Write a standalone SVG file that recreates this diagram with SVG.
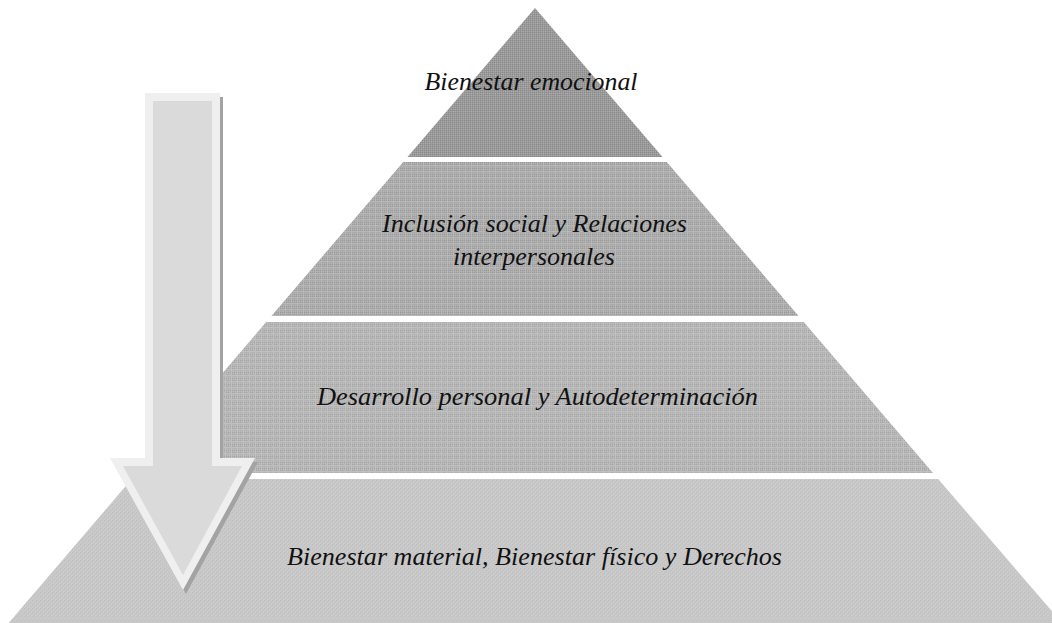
<svg xmlns="http://www.w3.org/2000/svg" width="1052" height="623" viewBox="0 0 1052 623">
  <defs>
    <!-- fine dotted textures for the pyramid levels -->
    <pattern id="tex1" width="6" height="6" patternUnits="userSpaceOnUse">
      <rect width="6" height="6" fill="#9a9a9a"/>
      <rect x="0" y="0" width="1" height="1" fill="#8a8a8a"/>
      <rect x="2" y="0" width="1" height="1" fill="#8a8a8a"/>
      <rect x="4" y="0" width="1" height="1" fill="#8a8a8a"/>
      <rect x="1" y="1" width="1" height="1" fill="#a8a8a8"/>
      <rect x="3" y="1" width="1" height="1" fill="#a8a8a8"/>
      <rect x="5" y="1" width="1" height="1" fill="#a8a8a8"/>
      <rect x="0" y="2" width="1" height="1" fill="#8a8a8a"/>
      <rect x="2" y="2" width="1" height="1" fill="#8a8a8a"/>
      <rect x="4" y="2" width="1" height="1" fill="#8a8a8a"/>
      <rect x="1" y="3" width="1" height="1" fill="#a8a8a8"/>
      <rect x="3" y="3" width="1" height="1" fill="#b0b0b0"/>
      <rect x="5" y="3" width="1" height="1" fill="#a8a8a8"/>
      <rect x="0" y="4" width="1" height="1" fill="#8a8a8a"/>
      <rect x="2" y="4" width="1" height="1" fill="#8a8a8a"/>
      <rect x="4" y="4" width="1" height="1" fill="#8a8a8a"/>
      <rect x="1" y="5" width="1" height="1" fill="#a8a8a8"/>
      <rect x="3" y="5" width="1" height="1" fill="#a8a8a8"/>
      <rect x="5" y="5" width="1" height="1" fill="#a8a8a8"/>
    </pattern>
    <pattern id="tex2" width="6" height="6" patternUnits="userSpaceOnUse">
      <rect width="6" height="6" fill="#a9a9a9"/>
      <rect x="0" y="0" width="1" height="1" fill="#9c9c9c"/>
      <rect x="2" y="0" width="1" height="1" fill="#9c9c9c"/>
      <rect x="4" y="0" width="1" height="1" fill="#9c9c9c"/>
      <rect x="1" y="1" width="1" height="1" fill="#b6b6b6"/>
      <rect x="3" y="1" width="1" height="1" fill="#b6b6b6"/>
      <rect x="5" y="1" width="1" height="1" fill="#b6b6b6"/>
      <rect x="0" y="2" width="1" height="1" fill="#9c9c9c"/>
      <rect x="2" y="2" width="1" height="1" fill="#9c9c9c"/>
      <rect x="4" y="2" width="1" height="1" fill="#9c9c9c"/>
      <rect x="0" y="3" width="6" height="1" fill="#b8b8b8"/>
      <rect x="3" y="0" width="1" height="6" fill="#b8b8b8"/>
      <rect x="1" y="5" width="1" height="1" fill="#b6b6b6"/>
      <rect x="5" y="5" width="1" height="1" fill="#b6b6b6"/>
    </pattern>
    <pattern id="tex3" width="6" height="6" patternUnits="userSpaceOnUse">
      <rect width="6" height="6" fill="#b3b3b3"/>
      <rect x="0" y="0" width="1" height="1" fill="#a6a6a6"/>
      <rect x="2" y="0" width="1" height="1" fill="#a6a6a6"/>
      <rect x="4" y="0" width="1" height="1" fill="#a6a6a6"/>
      <rect x="1" y="1" width="1" height="1" fill="#bfbfbf"/>
      <rect x="5" y="1" width="1" height="1" fill="#bfbfbf"/>
      <rect x="0" y="2" width="1" height="1" fill="#a6a6a6"/>
      <rect x="4" y="2" width="1" height="1" fill="#a6a6a6"/>
      <rect x="0" y="3" width="6" height="1" fill="#c0c0c0"/>
      <rect x="3" y="0" width="1" height="6" fill="#c0c0c0"/>
      <rect x="1" y="5" width="1" height="1" fill="#bfbfbf"/>
      <rect x="5" y="5" width="1" height="1" fill="#bfbfbf"/>
    </pattern>
    <pattern id="tex4" width="4" height="4" patternUnits="userSpaceOnUse">
      <rect width="4" height="4" fill="#c9c9c9"/>
      <rect x="0" y="0" width="2" height="2" fill="#c3c3c3"/>
      <rect x="2" y="2" width="2" height="2" fill="#c3c3c3"/>
      <rect x="1" y="1" width="1" height="1" fill="#cfcfcf"/>
      <rect x="3" y="3" width="1" height="1" fill="#cfcfcf"/>
    </pattern>
  </defs>
  <style>
    .label { font-family: "Liberation Serif", "DejaVu Serif", serif; font-style: italic; font-size: 26px; fill: #111111; text-anchor: middle; }
    .arrow-shadow { fill: #a3a3a3; }
    .arrow-rim { fill: #efefef; }
    .arrow-core { fill: #dadada; }
  </style>

  <rect width="1052" height="623" fill="#ffffff"/>

  <!-- pyramid levels, top to bottom -->
  <g id="level-emocional">
    <polygon points="535,8 662.5,157 407.5,157" fill="url(#tex1)"/>
    <text class="label" x="531" y="90" textLength="213" lengthAdjust="spacingAndGlyphs">Bienestar emocional</text>
  </g>
  <g id="level-inclusion">
    <polygon points="403.2,162 666.8,162 798.6,316 271.4,316" fill="url(#tex2)"/>
    <text class="label" x="534.5" y="232" textLength="305" lengthAdjust="spacingAndGlyphs">Inclusión social y Relaciones</text>
    <text class="label" x="534" y="265" textLength="162" lengthAdjust="spacingAndGlyphs">interpersonales</text>
  </g>
  <g id="level-desarrollo">
    <polygon points="266.2,322 803.8,322 933,473 137,473" fill="url(#tex3)"/>
    <text class="label" x="537.5" y="405" textLength="441" lengthAdjust="spacingAndGlyphs">Desarrollo personal y Autodeterminación</text>
  </g>
  <g id="level-material">
    <polygon points="131.8,479 938.2,479 1062,623 8.6,623" fill="url(#tex4)"/>
    <text class="label" x="534.5" y="565" textLength="495" lengthAdjust="spacingAndGlyphs">Bienestar material, Bienestar físico y Derechos</text>
  </g>

  <!-- downward arrow along the left side -->
  <g id="connectors">
    <g id="arrow-down">
      <polygon class="arrow-shadow" points="148,97 223,97 223,462 258,462 186,594 113,462 148,462"/>
      <polygon class="arrow-rim" points="145,93 220,93 220,458 255,458 183,590 110,458 145,458"/>
      <polygon class="arrow-core" points="153,101 212,101 212,466 242,466 183,575 123,466 153,466"/>
    </g>
  </g>
</svg>
